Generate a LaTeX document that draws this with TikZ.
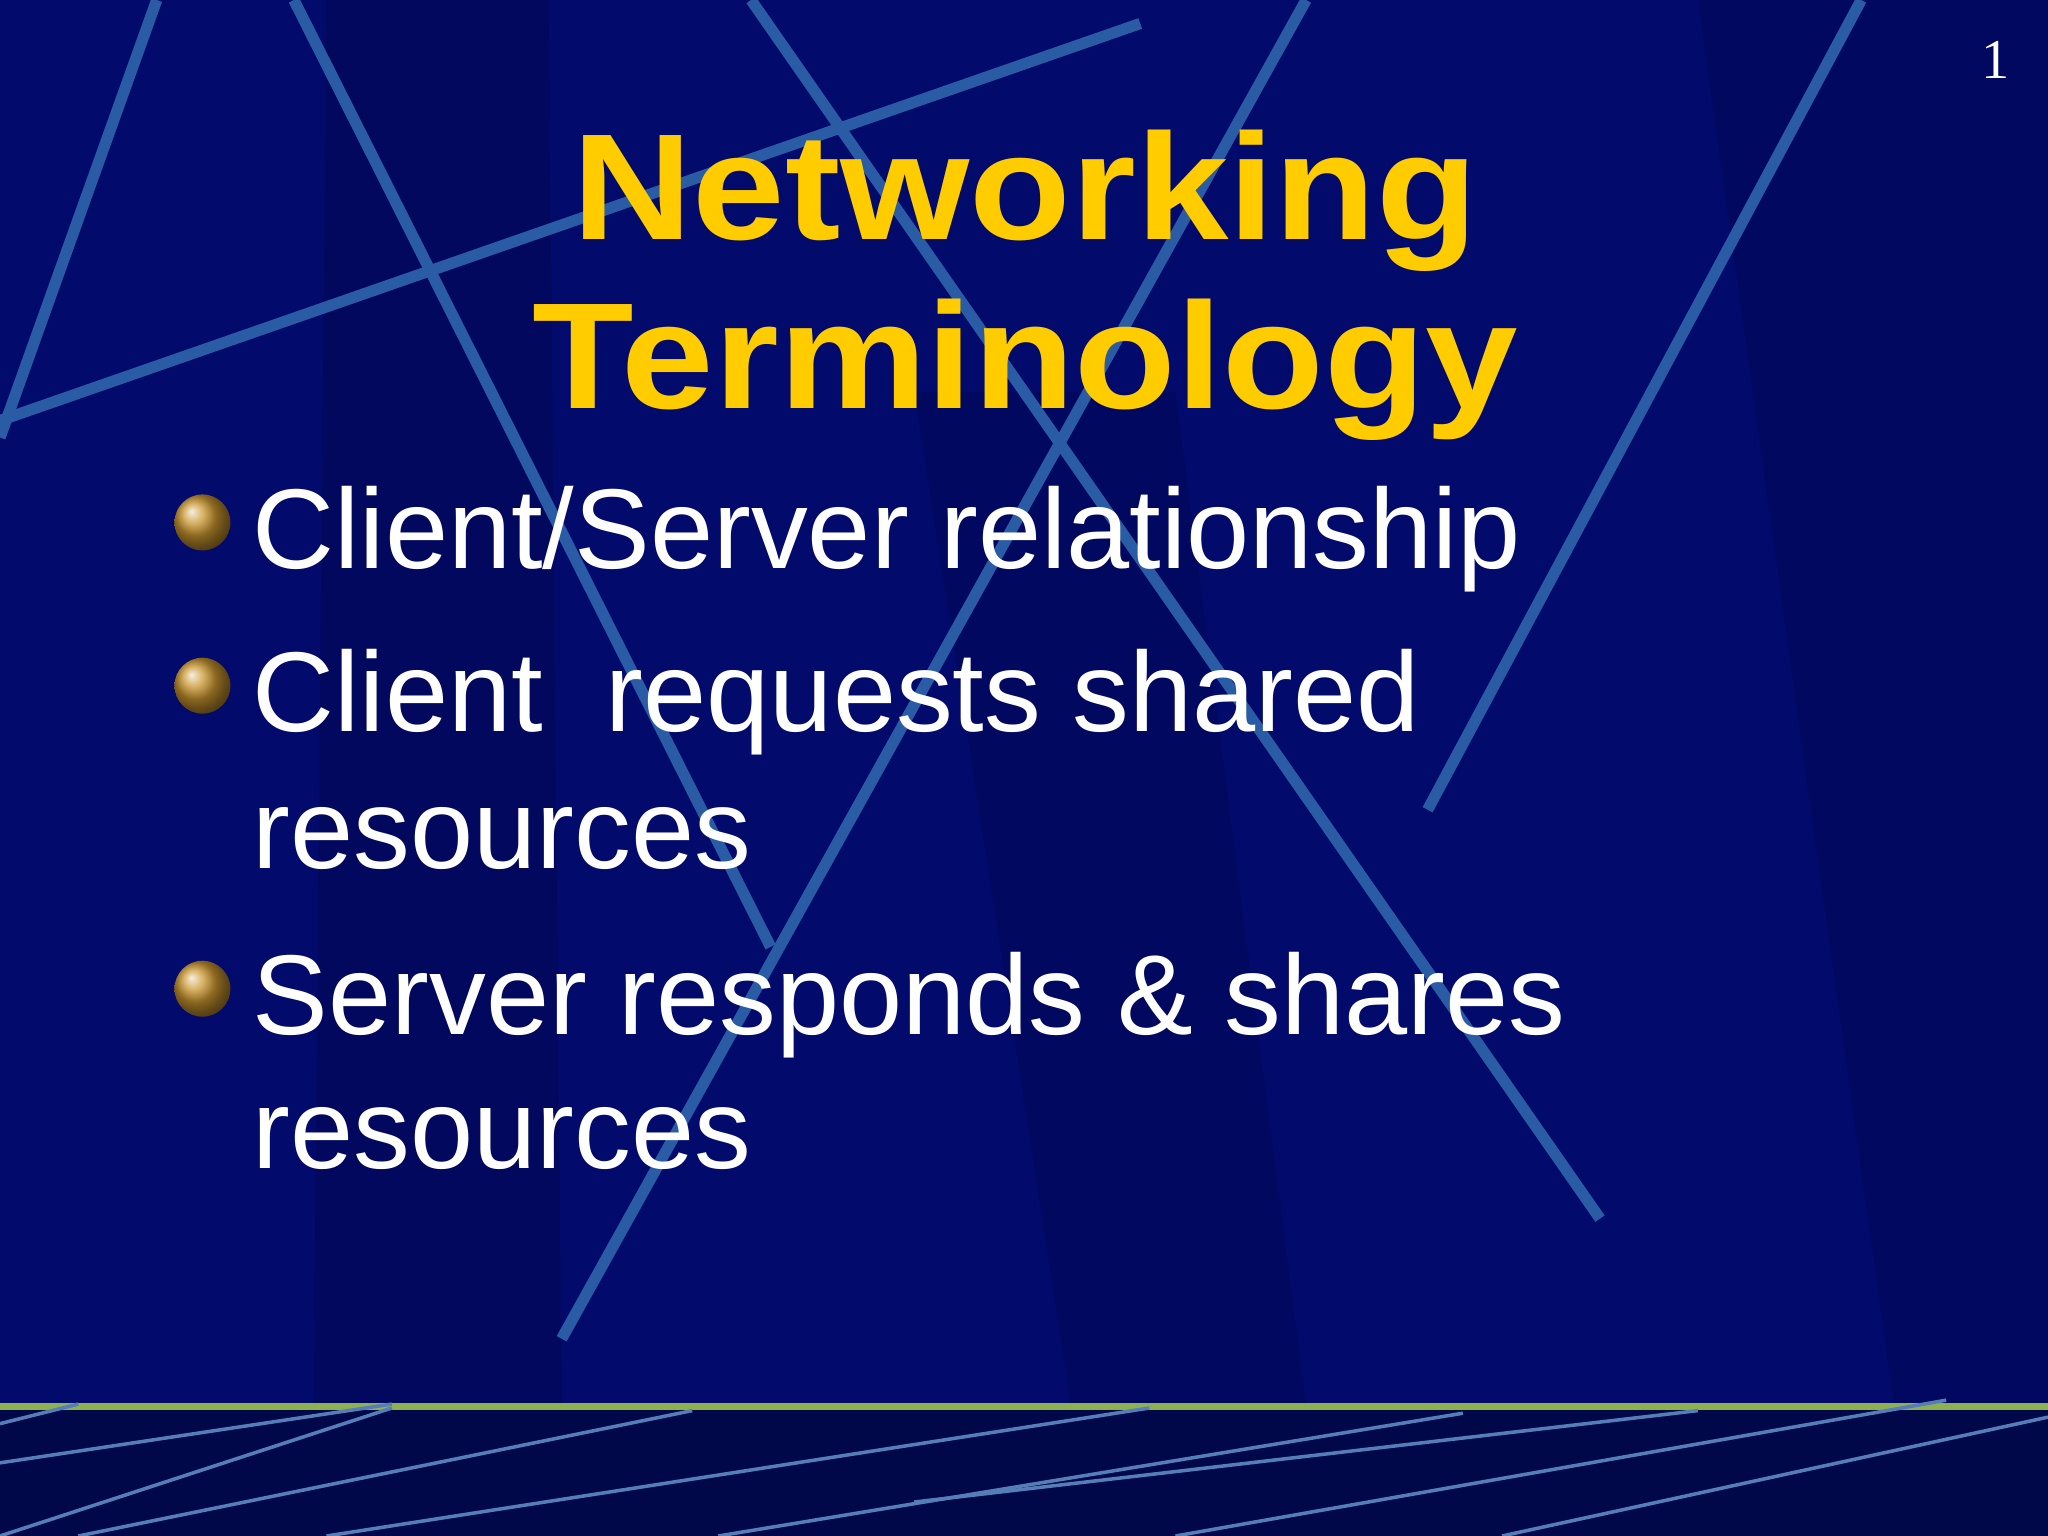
\documentclass[tikz,border=0pt]{standalone}
\usepackage{fontspec}
\setmainfont{Liberation Sans}
\newfontfamily\serifnum{Liberation Serif}
\definecolor{bgblue}{HTML}{020A6C}
\definecolor{bandblue}{HTML}{00084A}
\definecolor{stripe}{HTML}{2A5CA6}
\definecolor{titley}{HTML}{FFCC00}
\definecolor{gline}{HTML}{8DB050}
\definecolor{gold}{HTML}{C8952E}
\begin{document}
\begin{tikzpicture}[x=0.01306cm,y=-0.01306cm,
  stripeline/.style={stripe,line width=3.2pt},
  thinline/.style={stripe!80!white,line width=1pt},
  bullettext/.style={anchor=base west,inner sep=0pt,text=white,font=\fontsize{32.3}{38}\selectfont},
  titletext/.style={anchor=base,text=titley,font=\bfseries\fontsize{43}{46}\selectfont,xscale=1.1},
  ball/.style={circle,minimum size=0.56cm,inner sep=0pt,ball color=gold,shading=ball}]
\fill[bgblue] (0,0) rectangle (1568,1176);
\useasboundingbox (0,0) rectangle (1568,1176);
% faint bands
\fill[black,opacity=0.12] (250,0) -- (420,0) -- (430,1076) -- (240,1076) -- cycle;
\fill[black,opacity=0.10] (700,300) -- (900,300) -- (1000,1076) -- (820,1076) -- cycle;
\fill[black,opacity=0.10] (1300,0) -- (1568,0) -- (1568,1076) -- (1450,1076) -- cycle;
% stripes
\coordinate (s1a) at (120,0);   \coordinate (s1b) at (0,335);
\coordinate (s2a) at (225,0);   \coordinate (s2b) at (590,725);
\coordinate (s3a) at (0,322);   \coordinate (s3b) at (873,18);
\coordinate (s4a) at (575,0);   \coordinate (s4b) at (1225,933);
\coordinate (s5a) at (1000,0);  \coordinate (s5b) at (430,1025);
\coordinate (s6a) at (1425,0);  \coordinate (s6b) at (1093,620);
\foreach \i in {1,...,6} {\draw[stripeline] (s\i a) -- (s\i b);}
% bottom band
\fill[bandblue] (0,1078) rectangle (1568,1176);
\draw[gline,line width=2pt] (0,1077) -- (1568,1077);
\draw[thinline] (0,1120) -- (300,1075);
\draw[thinline] (0,1176) -- (300,1078);
\draw[thinline] (60,1176) -- (530,1080);
\draw[thinline] (250,1176) -- (880,1078);
\draw[thinline] (550,1176) -- (1120,1082);
\draw[thinline] (700,1150) -- (1300,1080);
\draw[thinline] (900,1176) -- (1490,1072);
\draw[thinline] (1150,1176) -- (1568,1085);
\draw[thinline] (0,1090) -- (60,1075);
% page number
\node[anchor=base east,text=white,font=\serifnum\fontsize{16}{18}\selectfont] (pn) at (1548,60) {1};
% title
\node[titletext] (t1) at (785,183) {Networking};
\node[titletext] (t2) at (785,313) {Terminology};
% bullets
\node[ball] (b1) at (155,400) {};
\node[ball] (b2) at (155,525) {};
\node[ball] (b3) at (155,757) {};
\node[bullettext] (l1) at (193,435) {Client/Server relationship};
\node[bullettext] (l2) at (193,560) {Client\ \ requests shared};
\node[bullettext] (l3) at (193,665) {resources};
\node[bullettext] (l4) at (193,792) {Server responds \& shares};
\node[bullettext] (l5) at (193,895) {resources};
\end{tikzpicture}
\end{document}
